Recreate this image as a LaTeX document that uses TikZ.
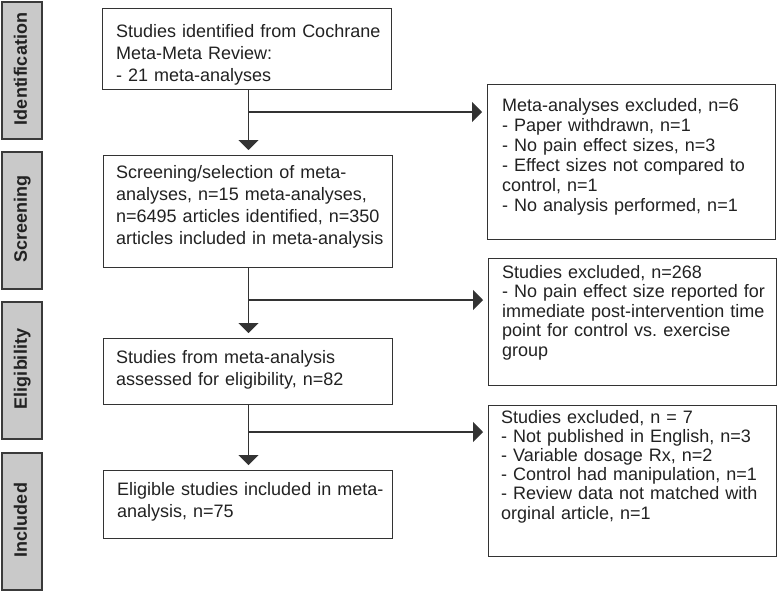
\documentclass[tikz,border=0pt]{standalone}
\usepackage{fontspec}
\setmainfont{Liberation Sans}
\usetikzlibrary{arrows.meta}
\frenchspacing
\definecolor{ink}{HTML}{222222}
\definecolor{edge}{HTML}{333333}
\definecolor{sidefill}{HTML}{C9C9C9}
\definecolor{sideedge}{HTML}{3A3A3A}
\tikzset{
  box/.style={draw=edge, line width=1.4pt, fill=white, inner sep=0pt, anchor=north west},
  sidebox/.style={draw=sideedge, line width=1.8pt, fill=sidefill, inner sep=0pt, anchor=north west, minimum width=40pt},
  sidelabel/.style={rotate=90, anchor=base, inner sep=0pt, text=ink, font=\bfseries\fontsize{18}{22}\selectfont},
  ltxt/.style={anchor=base west, inner sep=0pt, text width=275pt, align=left, text=ink, font=\fontsize{18}{22}\selectfont},
  rtxt/.style={anchor=base west, inner sep=0pt, text width=272pt, align=left, text=ink, font=\fontsize{18}{20}\selectfont},
  rtxtb/.style={rtxt, font=\fontsize{18}{19.5}\selectfont},
  rtxtc/.style={rtxt, font=\fontsize{18}{19.2}\selectfont},
  flow/.style={draw=edge, line width=1.3pt},
  flowarrow/.style={flow, -{Triangle[width=20pt,length=10pt]}, shorten >=5pt},
}
\begin{document}
\begin{tikzpicture}[x=1pt,y=-1pt]
\useasboundingbox (0,0) rectangle (778,590);

% side stage labels
\node[sidebox, minimum height=137pt] (sid) at (1,1) {};
\node[sidebox, minimum height=137pt] (ssc) at (1,151) {};
\node[sidebox, minimum height=137pt] (sel) at (1,301) {};
\node[sidebox, minimum height=137pt] (sin) at (1,452) {};
\node[sidelabel] (lid) at (27,69) {Identification};
\node[sidelabel] (lsc) at (27,219) {Screening};
\node[sidelabel] (lel) at (27,369) {Eligibility};
\node[sidelabel] (lin) at (27,520) {Included};

% main boxes
\node[box, minimum width=289pt, minimum height=81pt] (b1) at (102,8) {};
\node[box, minimum width=289pt, minimum height=112pt] (b2) at (103,155) {};
\node[box, minimum width=289pt, minimum height=66pt] (b3) at (103,338) {};
\node[box, minimum width=289pt, minimum height=68pt] (b4) at (103,470) {};

% exclusion boxes
\node[box, minimum width=288pt, minimum height=155pt] (r1) at (487,84) {};
\node[box, minimum width=288pt, minimum height=127pt] (r2) at (488,258) {};
\node[box, minimum width=288pt, minimum height=151pt] (r3) at (488,405) {};

% texts
\node[ltxt] (t1) at (116,37) {Studies identified from Cochrane\\Meta-Meta Review:\\- 21 meta-analyses};
\node[ltxt] (t2) at (116,178) {Screening/selection of meta-\\analyses, n=15 meta-analyses,\\n=6495 articles identified, n=350\\articles included in meta-analysis};
\node[ltxt] (t3) at (116,363) {Studies from meta-analysis\\assessed for eligibility, n=82};
\node[ltxt] (t4) at (117,495) {Eligible studies included in meta-\\analysis, n=75};
\node[rtxt] (u1) at (502,111) {Meta-analyses excluded, n=6\\- Paper withdrawn, n=1\\- No pain effect sizes, n=3\\- Effect sizes not compared to\\control, n=1\\- No analysis performed, n=1};
\node[rtxtb] (u2) at (502,278) {Studies excluded, n=268\\- No pain effect size reported for\\immediate post-intervention time\\point for control vs. exercise\\group};
\node[rtxtc] (u3) at (501,423) {Studies excluded, n = 7\\- Not published in English, n=3\\- Variable dosage Rx, n=2\\- Control had manipulation, n=1\\- Review data not matched with\\orginal article, n=1};

% connectors
\coordinate (k1) at (248.5,112);
\coordinate (k2) at (248.5,300);
\coordinate (k3) at (248.5,432);
\draw[flowarrow] (b1.south -| k1) -- (b2.north -| k1);
\draw[flowarrow] (k1) -- (r1.west |- k1);
\draw[flowarrow] (b2.south -| k2) -- (b3.north -| k2);
\draw[flowarrow] (k2) -- (r2.west |- k2);
\draw[flowarrow] (b3.south -| k3) -- (b4.north -| k3);
\draw[flowarrow] (k3) -- (r3.west |- k3);
\end{tikzpicture}
\end{document}
